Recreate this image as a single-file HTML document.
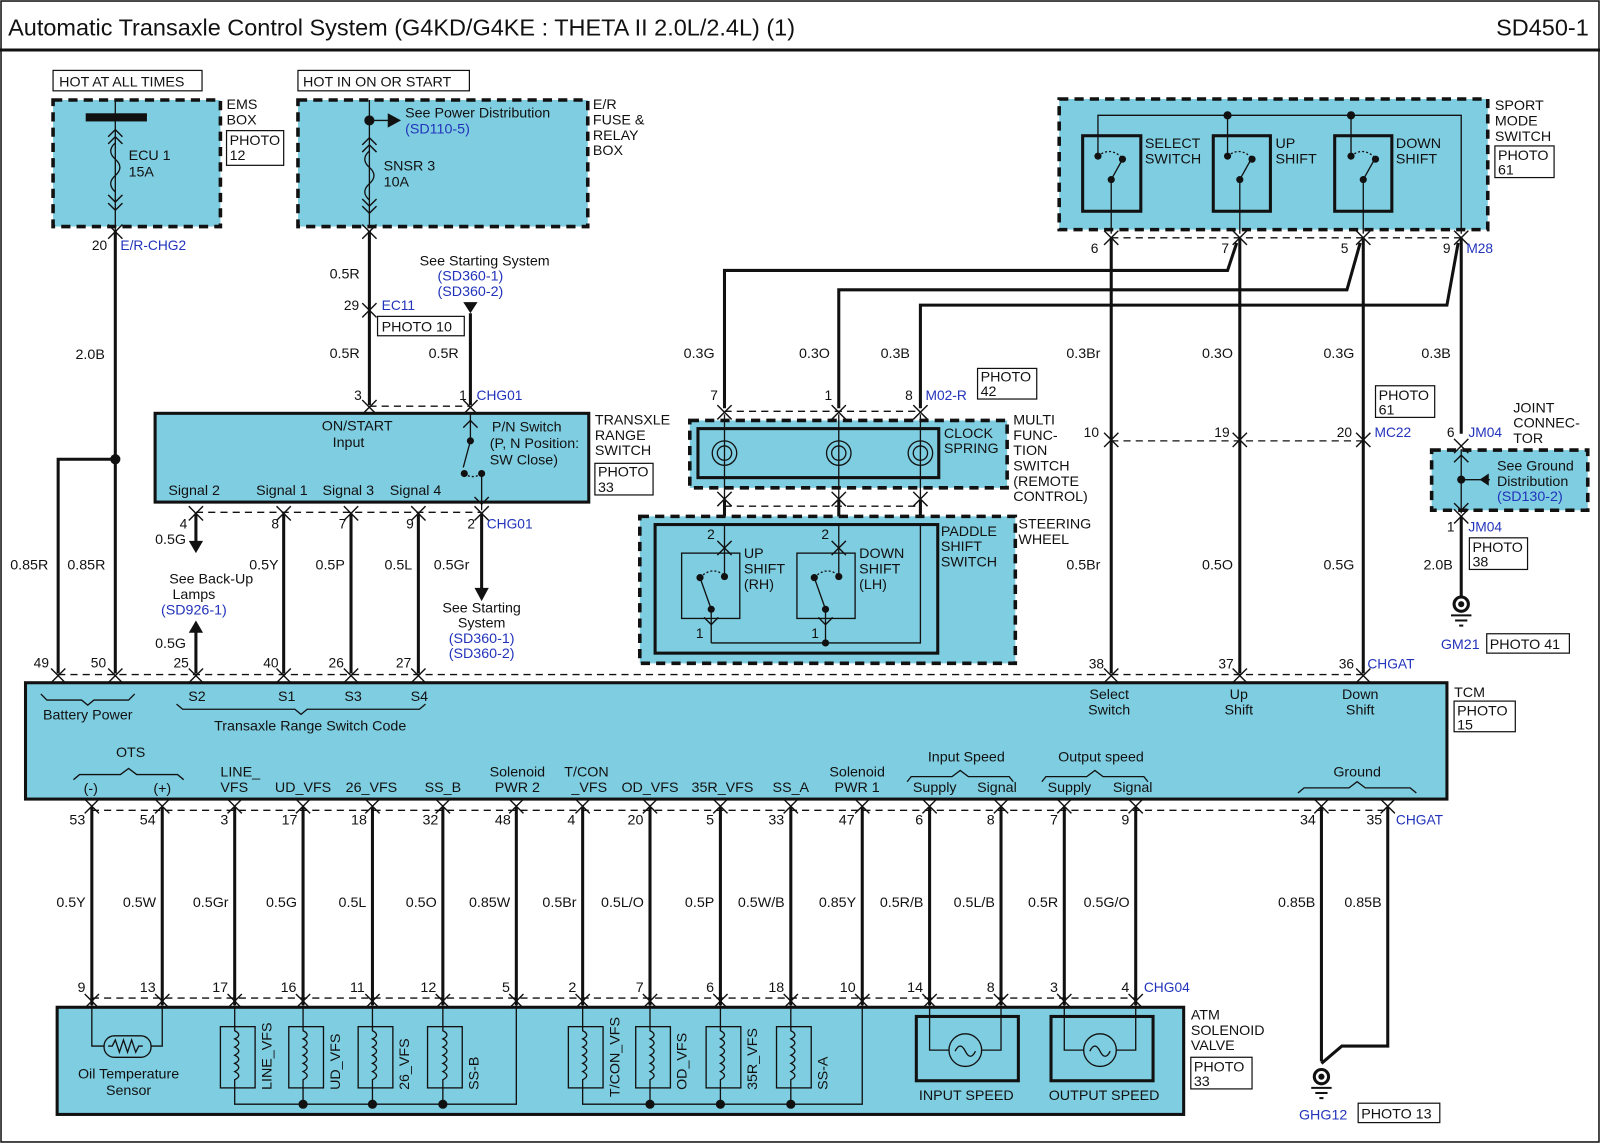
<!DOCTYPE html>
<html><head><meta charset="utf-8"><style>
html,body{margin:0;padding:0;background:#fff}
svg{display:block}
text{font-family:"Liberation Sans",Arial,sans-serif;font-size:14px;fill:#111}
.b{fill:#2233bb}
.s{font-size:13.5px}
.w{stroke:#111;stroke-width:3;fill:none}
.t{stroke:#111;stroke-width:1.3;fill:none}
.d{stroke:#111;stroke-width:1.3;fill:none;stroke-dasharray:7 5}
.box{fill:#7fcde0;stroke:#111;stroke-width:3}
.dbox{fill:#7fcde0;stroke:#111;stroke-width:3.5;stroke-dasharray:9 6}
.pb{fill:#fff;stroke:#111;stroke-width:1.2}
</style></head><body>
<svg width="1600" height="1143" viewBox="0 0 1568 1120" preserveAspectRatio="none" xmlns="http://www.w3.org/2000/svg">
<defs>
<path id="pd" d="M-7,-7 L0,0 L7,-7" stroke="#111" stroke-width="1.4" fill="none"/>
<path id="pu" d="M-7,7 L0,0 L7,7" stroke="#111" stroke-width="1.4" fill="none"/>
<g id="pin"><path d="M-7,-6 L0,1 L7,-6" stroke="#111" stroke-width="1.4" fill="none"/><path d="M-7,8 L0,1 L7,8" stroke="#111" stroke-width="1.4" fill="none"/></g>
</defs>
<rect x="1" y="1" width="1566" height="1118" fill="#fff" stroke="#111" stroke-width="1.5"/>
<text x="8" y="35" style="font-size:23px">Automatic Transaxle Control System (G4KD/G4KE : THETA II 2.0L/2.4L) (1)</text>
<text x="1557" y="35" text-anchor="end" style="font-size:23px">SD450-1</text>
<line x1="0" y1="49" x2="1568" y2="49" stroke="#111" stroke-width="3"/>

<!-- EMS -->
<rect x="52" y="69" width="146" height="20" class="pb"/><text x="58" y="85">HOT AT ALL TIMES</text>
<rect x="52" y="98" width="164" height="124" class="dbox"/>
<line x1="113" y1="98" x2="113" y2="660" class="t"/>
<line x1="113" y1="226" x2="113" y2="660" class="w"/>
<rect x="84" y="111" width="60" height="8" fill="#111"/>
<use href="#pu" x="113" y="127"/><use href="#pu" x="113" y="134"/>
<path d="M113,140 q-9,8 0,16 q9,8 0,16 q-9,8 0,16" class="t" fill="none"/>
<use href="#pd" x="113" y="198"/><use href="#pd" x="113" y="206"/>
<use href="#pin" x="113" y="226"/>
<text x="126" y="157">ECU 1</text><text x="126" y="173">15A</text>
<text x="222" y="107">EMS</text><text x="222" y="122">BOX</text>
<rect x="222" y="128" width="56" height="34" class="pb"/><text x="225" y="142">PHOTO</text><text x="225" y="157">12</text>
<text x="90" y="245" class="s">20</text><text x="118" y="245" class="b s">E/R-CHG2</text>
<text x="74" y="352">2.0B</text>
<circle cx="113" cy="450" r="5" fill="#111"/>
<path d="M113,450 H57 V660" class="w"/>
<text x="10" y="558">0.85R</text><text x="66" y="558">0.85R</text>

<!-- E/R fuse -->
<rect x="292" y="69" width="168" height="20" class="pb"/><text x="297" y="85">HOT IN ON OR START</text>
<rect x="292" y="98" width="284" height="124" class="dbox"/>
<line x1="362" y1="98" x2="362" y2="222" class="t"/>
<line x1="362" y1="226" x2="362" y2="397" class="w"/>
<circle cx="362" cy="118" r="5" fill="#111"/>
<line x1="362" y1="118" x2="382" y2="118" class="t"/><path d="M380,111 L393,118 L380,125Z" fill="#111"/>
<text x="397" y="115">See Power Distribution</text><text x="397" y="131" class="b">(SD110-5)</text>
<use href="#pu" x="362" y="135"/><use href="#pu" x="362" y="142"/>
<path d="M362,148 q-9,8 0,16 q9,8 0,16 q-9,8 0,16" class="t"/>
<use href="#pd" x="362" y="202"/><use href="#pd" x="362" y="209"/>
<use href="#pin" x="362" y="226"/>
<text x="376" y="167">SNSR 3</text><text x="376" y="183">10A</text>
<text x="581" y="107">E/R</text><text x="581" y="122">FUSE &amp;</text><text x="581" y="137">RELAY</text><text x="581" y="152">BOX</text>
<text x="323" y="273">0.5R</text>
<use href="#pin" x="362" y="303"/>
<text x="337" y="304" class="s">29</text><text x="374" y="304" class="b s">EC11</text>
<rect x="370" y="310" width="85" height="19" class="pb"/><text x="374" y="325">PHOTO 10</text>
<text x="475" y="260" text-anchor="middle">See Starting System</text>
<text x="461" y="275" text-anchor="middle" class="b">(SD360-1)</text>
<text x="461" y="290" text-anchor="middle" class="b">(SD360-2)</text>
<path d="M454,296 L468,296 L461,307Z" fill="#111"/>
<line x1="461" y1="307" x2="461" y2="397" class="w"/>
<text x="323" y="351">0.5R</text><text x="420" y="351">0.5R</text>
<text x="347" y="392" class="s">3</text><text x="450" y="392" class="s">1</text><text x="467" y="392" class="b s">CHG01</text>
<line x1="362" y1="398" x2="461" y2="398" class="d"/>

<!-- Transaxle range switch -->
<rect x="152" y="405" width="425" height="87" class="box"/>
<use href="#pin" x="362" y="398"/><use href="#pin" x="461" y="398"/>
<text x="350" y="422" text-anchor="middle">ON/START</text><text x="326" y="438">Input</text>
<use href="#pu" x="461" y="412"/>
<line x1="461" y1="405" x2="461" y2="432" class="t"/>
<circle cx="461" cy="432" r="3.5" fill="#111"/><circle cx="455" cy="464" r="3.5" fill="#111"/><circle cx="472" cy="464" r="3.5" fill="#111"/>
<line x1="461" y1="432" x2="454" y2="458" class="t"/>
<path d="M455,464 q8,6 17,0" class="t" stroke-dasharray="2 2"/>
<line x1="472" y1="464" x2="472" y2="500" class="t"/><use href="#pd" x="472" y="494"/>
<text x="482" y="423">P/N Switch</text><text x="480" y="439">(P, N Position:</text><text x="480" y="455">SW Close)</text>
<text x="165" y="485">Signal 2</text><text x="251" y="485">Signal 1</text><text x="316" y="485">Signal 3</text><text x="382" y="485">Signal 4</text>
<text x="583" y="416">TRANSXLE</text><text x="583" y="431">RANGE</text><text x="583" y="446">SWITCH</text>
<rect x="583" y="454" width="57" height="31" class="pb"/><text x="586" y="467">PHOTO</text><text x="586" y="482">33</text>
<line x1="192" y1="502" x2="472" y2="502" class="d"/>
<use href="#pin" x="192" y="502"/><use href="#pin" x="278" y="502"/><use href="#pin" x="344" y="502"/><use href="#pin" x="410" y="502"/><use href="#pin" x="472" y="502"/>
<text x="176" y="518" class="s">4</text><text x="266" y="518" class="s">8</text><text x="332" y="518" class="s">7</text><text x="398" y="518" class="s">9</text><text x="458" y="518" class="s">2</text><text x="477" y="518" class="b s">CHG01</text>
<line x1="192" y1="503" x2="192" y2="532" class="w"/><path d="M185,530 L199,530 L192,542Z" fill="#111"/>
<text x="152" y="533">0.5G</text>
<text x="207" y="572" text-anchor="middle">See Back-Up</text><text x="190" y="587" text-anchor="middle">Lamps</text><text x="190" y="602" text-anchor="middle" class="b">(SD926-1)</text>
<path d="M185,620 L199,620 L192,608Z" fill="#111"/><line x1="192" y1="618" x2="192" y2="660" class="w"/>
<text x="152" y="635">0.5G</text>
<line x1="278" y1="503" x2="278" y2="660" class="w"/><line x1="344" y1="503" x2="344" y2="660" class="w"/><line x1="410" y1="503" x2="410" y2="660" class="w"/>
<line x1="472" y1="503" x2="472" y2="578" class="w"/><path d="M465,576 L479,576 L472,589Z" fill="#111"/>
<g text-anchor="end"><text x="273" y="558">0.5Y</text><text x="338" y="558">0.5P</text><text x="404" y="558">0.5L</text><text x="460" y="558">0.5Gr</text></g>
<text x="472" y="600" text-anchor="middle">See Starting</text><text x="472" y="615" text-anchor="middle">System</text>
<text x="472" y="630" text-anchor="middle" class="b">(SD360-1)</text><text x="472" y="645" text-anchor="middle" class="b">(SD360-2)</text>
<text x="33" y="654" class="s">49</text><text x="89" y="654" class="s">50</text><text x="170" y="654" class="s">25</text><text x="258" y="654" class="s">40</text><text x="322" y="654" class="s">26</text><text x="388" y="654" class="s">27</text>

<!-- right top: sport mode -->
<rect x="1038" y="97" width="420" height="128" class="dbox"/>
<path d="M1076,153 V113 H1432 V229" class="t"/>
<circle cx="1203" cy="113" r="4" fill="#111"/><circle cx="1324" cy="113" r="4" fill="#111"/>
<g class="t">
<rect x="1061" y="133" width="57" height="74" stroke-width="3"/>
<rect x="1189" y="133" width="56" height="74" stroke-width="3"/>
<rect x="1308" y="133" width="56" height="74" stroke-width="3"/>
<line x1="1203" y1="113" x2="1203" y2="153"/><line x1="1324" y1="113" x2="1324" y2="153"/>
<line x1="1089" y1="176" x2="1099" y2="158"/><line x1="1215" y1="176" x2="1225" y2="158"/><line x1="1336" y1="176" x2="1346" y2="158"/>
<line x1="1089" y1="176" x2="1089" y2="229"/><line x1="1215" y1="176" x2="1215" y2="229"/><line x1="1336" y1="176" x2="1336" y2="229"/>
<path d="M1076,153 q12,-10 24,2" stroke-dasharray="2 2"/><path d="M1203,153 q12,-10 24,2" stroke-dasharray="2 2"/><path d="M1324,153 q12,-10 24,2" stroke-dasharray="2 2"/>
</g>
<g fill="#111"><circle cx="1076" cy="153" r="3.5"/><circle cx="1100" cy="156" r="3.5"/><circle cx="1089" cy="176" r="3.5"/>
<circle cx="1203" cy="153" r="3.5"/><circle cx="1227" cy="156" r="3.5"/><circle cx="1215" cy="176" r="3.5"/>
<circle cx="1324" cy="153" r="3.5"/><circle cx="1348" cy="156" r="3.5"/><circle cx="1336" cy="176" r="3.5"/></g>
<text x="1122" y="145">SELECT</text><text x="1122" y="160">SWITCH</text>
<text x="1250" y="145">UP</text><text x="1250" y="160">SHIFT</text>
<text x="1368" y="145">DOWN</text><text x="1368" y="160">SHIFT</text>
<text x="1465" y="108">SPORT</text><text x="1465" y="123">MODE</text><text x="1465" y="138">SWITCH</text>
<rect x="1465" y="143" width="58" height="31" class="pb"/><text x="1468" y="157">PHOTO</text><text x="1468" y="171">61</text>
<line x1="1089" y1="233" x2="1432" y2="233" class="d"/>
<use href="#pin" x="1089" y="232"/><use href="#pin" x="1215" y="232"/><use href="#pin" x="1336" y="232"/><use href="#pin" x="1432" y="232"/>
<text x="1069" y="248" class="s">6</text><text x="1197" y="248" class="s">7</text><text x="1314" y="248" class="s">5</text><text x="1414" y="248" class="s">9</text><text x="1437" y="248" class="b s">M28</text>
<g class="w">
<line x1="1089" y1="233" x2="1089" y2="660"/><line x1="1215" y1="233" x2="1215" y2="660"/><line x1="1336" y1="233" x2="1336" y2="660"/>
<line x1="1432" y1="233" x2="1432" y2="425"/>
<path d="M1212,238 L1203,265 H710 V400"/>
<path d="M1333,238 L1320,284 H822 V400"/>
<path d="M1429,238 L1418,299 H902 V400"/>
</g>
<text x="670" y="351">0.3G</text><text x="783" y="351">0.3O</text><text x="863" y="351">0.3B</text>
<text x="1045" y="351">0.3Br</text><text x="1178" y="351">0.3O</text><text x="1297" y="351">0.3G</text><text x="1393" y="351">0.3B</text>

<!-- clock spring -->
<text x="696" y="392" class="s">7</text><text x="808" y="392" class="s">1</text><text x="887" y="392" class="s">8</text><text x="907" y="392" class="b s">M02-R</text>
<rect x="958" y="361" width="58" height="30" class="pb"/><text x="961" y="374">PHOTO</text><text x="961" y="388">42</text>
<line x1="710" y1="403" x2="902" y2="403" class="d"/>
<rect x="676" y="412" width="311" height="66" class="dbox"/>
<rect x="684" y="420" width="236" height="48" class="box" fill="none"/>
<use href="#pin" x="710" y="403"/><use href="#pin" x="822" y="403"/><use href="#pin" x="902" y="403"/>
<g class="t">
<line x1="710" y1="406" x2="710" y2="488"/><line x1="822" y1="406" x2="822" y2="488"/><line x1="902" y1="406" x2="902" y2="488"/>
<circle cx="710" cy="444" r="12"/><circle cx="710" cy="444" r="7"/><circle cx="822" cy="444" r="12"/><circle cx="822" cy="444" r="7"/><circle cx="902" cy="444" r="12"/><circle cx="902" cy="444" r="7"/>
</g>
<text x="925" y="429">CLOCK</text><text x="925" y="444">SPRING</text>
<text x="993" y="416">MULTI</text><text x="993" y="431">FUNC-</text><text x="993" y="446">TION</text><text x="993" y="461">SWITCH</text><text x="993" y="476">(REMOTE</text><text x="993" y="491">CONTROL)</text>
<line x1="710" y1="496" x2="902" y2="496" class="d"/>
<use href="#pin" x="710" y="488"/><use href="#pin" x="822" y="488"/><use href="#pin" x="902" y="488"/>
<g class="w"><line x1="710" y1="490" x2="710" y2="514"/><line x1="822" y1="490" x2="822" y2="514"/><line x1="902" y1="490" x2="902" y2="514"/></g>

<!-- paddle -->
<rect x="627" y="506" width="368" height="144" class="dbox"/>
<rect x="642" y="514" width="277" height="126" class="box" fill="none"/>
<rect x="668" y="542" width="57" height="64" class="t" stroke-width="3"/>
<rect x="781" y="542" width="57" height="64" class="t" stroke-width="3"/>
<g class="t">
<line x1="710" y1="514" x2="710" y2="565"/><line x1="822" y1="514" x2="822" y2="565"/>
<line x1="686" y1="566" x2="697" y2="597"/><line x1="798" y1="566" x2="809" y2="597"/>
<line x1="697" y1="597" x2="697" y2="630"/><line x1="809" y1="597" x2="809" y2="630"/>
<path d="M697,630 H902 V514"/>
<path d="M686,566 q12,-12 24,-2" stroke-dasharray="2 2"/><path d="M798,566 q12,-12 24,-2" stroke-dasharray="2 2"/>
</g>
<use href="#pin" x="710" y="536"/><use href="#pin" x="822" y="536"/><use href="#pd" x="697" y="612"/><use href="#pd" x="809" y="612"/>
<g fill="#111"><circle cx="686" cy="566" r="3.5"/><circle cx="710" cy="565" r="3.5"/><circle cx="697" cy="597" r="3.5"/>
<circle cx="798" cy="566" r="3.5"/><circle cx="822" cy="565" r="3.5"/><circle cx="809" cy="597" r="3.5"/><circle cx="809" cy="630" r="3.5"/></g>
<text x="693" y="528" class="s">2</text><text x="805" y="528" class="s">2</text><text x="682" y="625" class="s">1</text><text x="795" y="625" class="s">1</text>
<text x="729" y="547">UP</text><text x="729" y="562">SHIFT</text><text x="729" y="577">(RH)</text>
<text x="842" y="547">DOWN</text><text x="842" y="562">SHIFT</text><text x="842" y="577">(LH)</text>
<text x="922" y="525">PADDLE</text><text x="922" y="540">SHIFT</text><text x="922" y="555">SWITCH</text>
<text x="998" y="518">STEERING</text><text x="998" y="533">WHEEL</text>

<!-- MC22 / JM04 -->
<line x1="1089" y1="432" x2="1336" y2="432" class="d"/>
<use href="#pin" x="1089" y="430"/><use href="#pin" x="1215" y="430"/><use href="#pin" x="1336" y="430"/>
<text x="1062" y="428" class="s">10</text><text x="1190" y="428" class="s">19</text><text x="1310" y="428" class="s">20</text><text x="1347" y="428" class="b s">MC22</text>
<rect x="1348" y="378" width="58" height="31" class="pb"/><text x="1351" y="392">PHOTO</text><text x="1351" y="406">61</text>
<text x="1418" y="428" class="s">6</text><text x="1439" y="428" class="b s">JM04</text>
<text x="1483" y="404">JOINT</text><text x="1483" y="419">CONNEC-</text><text x="1483" y="434">TOR</text>
<rect x="1403" y="441" width="153" height="59" class="dbox"/>
<use href="#pin" x="1432" y="436"/>
<line x1="1432" y1="440" x2="1432" y2="503" class="t"/><use href="#pu" x="1432" y="446"/><use href="#pd" x="1432" y="500"/>
<circle cx="1432" cy="470" r="4" fill="#111"/><line x1="1432" y1="470" x2="1460" y2="470" class="t"/><path d="M1459,464 L1459,476 L1450,470Z" fill="#111"/>
<text x="1467" y="461">See Ground</text><text x="1467" y="476">Distribution</text><text x="1467" y="491" class="b">(SD130-2)</text>
<use href="#pin" x="1432" y="505"/>
<text x="1418" y="521" class="s">1</text><text x="1439" y="521" class="b s">JM04</text>
<rect x="1440" y="527" width="57" height="31" class="pb"/><text x="1443" y="541">PHOTO</text><text x="1443" y="555">38</text>
<text x="1395" y="558">2.0B</text>
<line x1="1432" y1="506" x2="1432" y2="585" class="w"/>
<circle cx="1432" cy="592" r="7" fill="none" stroke="#111" stroke-width="3"/><circle cx="1432" cy="592" r="3" fill="#111"/>
<line x1="1422" y1="603" x2="1442" y2="603" stroke="#111" stroke-width="2"/><line x1="1426" y1="608" x2="1438" y2="608" stroke="#111" stroke-width="2"/><line x1="1430" y1="613" x2="1434" y2="613" stroke="#111" stroke-width="2"/>
<text x="1412" y="636" class="b">GM21</text>
<rect x="1457" y="621" width="81" height="19" class="pb"/><text x="1460" y="636">PHOTO 41</text>
<text x="1045" y="558">0.5Br</text><text x="1178" y="558">0.5O</text><text x="1297" y="558">0.5G</text>

<!-- TCM -->
<line x1="57" y1="661" x2="1336" y2="661" class="d"/>
<text x="1067" y="655" class="s">38</text><text x="1194" y="655" class="s">37</text><text x="1312" y="655" class="s">36</text><text x="1340" y="655" class="b s">CHGAT</text>
<rect x="25" y="669" width="1393" height="114" class="box"/>
<g><use href="#pin" x="57" y="661"/><use href="#pin" x="113" y="661"/><use href="#pin" x="192" y="661"/><use href="#pin" x="278" y="661"/><use href="#pin" x="344" y="661"/><use href="#pin" x="410" y="661"/><use href="#pin" x="1089" y="661"/><use href="#pin" x="1215" y="661"/><use href="#pin" x="1336" y="661"/></g>
<path d="M40,680 l6,6 h34 l6,5 l6,-5 h34 l6,-6" class="t"/>
<text x="86" y="705" text-anchor="middle">Battery Power</text>
<text x="193" y="687" text-anchor="middle">S2</text><text x="281" y="687" text-anchor="middle">S1</text><text x="346" y="687" text-anchor="middle">S3</text><text x="411" y="687" text-anchor="middle">S4</text>
<path d="M173,690 l6,5 h110 l6,5 l6,-5 h110 l6,-5" class="t"/>
<text x="304" y="716" text-anchor="middle">Transaxle Range Switch Code</text>
<text x="1087" y="685" text-anchor="middle">Select</text><text x="1087" y="700" text-anchor="middle">Switch</text>
<text x="1214" y="685" text-anchor="middle">Up</text><text x="1214" y="700" text-anchor="middle">Shift</text>
<text x="1333" y="685" text-anchor="middle">Down</text><text x="1333" y="700" text-anchor="middle">Shift</text>
<text x="1425" y="683">TCM</text>
<rect x="1425" y="687" width="60" height="30" class="pb"/><text x="1428" y="701">PHOTO</text><text x="1428" y="715">15</text>
<text x="128" y="742" text-anchor="middle">OTS</text>
<path d="M72,764 l6,-5 h40 l8,-6 l8,6 h40 l6,5" class="t"/>
<text x="89" y="777" text-anchor="middle">(-)</text><text x="159" y="777" text-anchor="middle">(+)</text>
<text x="216" y="761">LINE_</text><text x="216" y="776">VFS</text>
<text x="297" y="776" text-anchor="middle">UD_VFS</text><text x="364" y="776" text-anchor="middle">26_VFS</text><text x="434" y="776" text-anchor="middle">SS_B</text>
<text x="507" y="761" text-anchor="middle">Solenoid</text><text x="507" y="776" text-anchor="middle">PWR 2</text>
<text x="553" y="761">T/CON</text><text x="560" y="776">_VFS</text>
<text x="637" y="776" text-anchor="middle">OD_VFS</text><text x="708" y="776" text-anchor="middle">35R_VFS</text><text x="775" y="776" text-anchor="middle">SS_A</text>
<text x="840" y="761" text-anchor="middle">Solenoid</text><text x="840" y="776" text-anchor="middle">PWR 1</text>
<text x="947" y="746" text-anchor="middle">Input Speed</text>
<path d="M889,766 l4,-5 h40 l8,-6 l8,6 h40 l4,5" class="t"/>
<text x="916" y="776" text-anchor="middle">Supply</text><text x="977" y="776" text-anchor="middle">Signal</text>
<text x="1079" y="746" text-anchor="middle">Output speed</text>
<path d="M1021,766 l4,-5 h40 l8,-6 l8,6 h40 l4,5" class="t"/>
<text x="1048" y="776" text-anchor="middle">Supply</text><text x="1110" y="776" text-anchor="middle">Signal</text>
<text x="1330" y="761" text-anchor="middle">Ground</text>
<path d="M1272,777 l6,-5 h44 l8,-6 l8,6 h44 l6,5" class="t"/>

<!-- TCM bottom wires -->
<line x1="90" y1="794" x2="1360" y2="794" class="d"/>
<g>
<use href="#pin" x="90" y="789"/><use href="#pin" x="159" y="789"/><use href="#pin" x="230" y="789"/><use href="#pin" x="297" y="789"/><use href="#pin" x="365" y="789"/><use href="#pin" x="434" y="789"/><use href="#pin" x="506" y="789"/><use href="#pin" x="571" y="789"/><use href="#pin" x="637" y="789"/><use href="#pin" x="706" y="789"/><use href="#pin" x="775" y="789"/><use href="#pin" x="845" y="789"/><use href="#pin" x="911" y="789"/><use href="#pin" x="981" y="789"/><use href="#pin" x="1043" y="789"/><use href="#pin" x="1113" y="789"/><use href="#pin" x="1295" y="789"/><use href="#pin" x="1360" y="789"/>
</g>
<g class="w">
<line x1="90" y1="791" x2="90" y2="985"/><line x1="159" y1="791" x2="159" y2="985"/><line x1="230" y1="791" x2="230" y2="985"/><line x1="297" y1="791" x2="297" y2="985"/><line x1="365" y1="791" x2="365" y2="985"/><line x1="434" y1="791" x2="434" y2="985"/><line x1="506" y1="791" x2="506" y2="985"/><line x1="571" y1="791" x2="571" y2="985"/><line x1="637" y1="791" x2="637" y2="985"/><line x1="706" y1="791" x2="706" y2="985"/><line x1="775" y1="791" x2="775" y2="985"/><line x1="845" y1="791" x2="845" y2="985"/><line x1="911" y1="791" x2="911" y2="985"/><line x1="981" y1="791" x2="981" y2="985"/><line x1="1043" y1="791" x2="1043" y2="985"/><line x1="1113" y1="791" x2="1113" y2="985"/>
<path d="M1295,791 V1040"/><path d="M1360,791 V1025 H1315 L1295,1042"/>
</g>
<g class="s">
<text x="68" y="808">53</text><text x="137" y="808">54</text><text x="216" y="808">3</text><text x="276" y="808">17</text><text x="344" y="808">18</text><text x="414" y="808">32</text><text x="485" y="808">48</text><text x="556" y="808">4</text><text x="615" y="808">20</text><text x="692" y="808">5</text><text x="753" y="808">33</text><text x="822" y="808">47</text><text x="897" y="808">6</text><text x="967" y="808">8</text><text x="1029" y="808">7</text><text x="1099" y="808">9</text><text x="1274" y="808">34</text><text x="1339" y="808">35</text>
</g>
<text x="1368" y="808" class="b s">CHGAT</text>
<g text-anchor="end">
<text x="84" y="889">0.5Y</text><text x="153" y="889">0.5W</text><text x="224" y="889">0.5Gr</text><text x="291" y="889">0.5G</text><text x="359" y="889">0.5L</text><text x="428" y="889">0.5O</text><text x="500" y="889">0.85W</text><text x="565" y="889">0.5Br</text><text x="631" y="889">0.5L/O</text><text x="700" y="889">0.5P</text><text x="769" y="889">0.5W/B</text><text x="839" y="889">0.85Y</text><text x="905" y="889">0.5R/B</text><text x="975" y="889">0.5L/B</text><text x="1037" y="889">0.5R</text><text x="1107" y="889">0.5G/O</text><text x="1289" y="889">0.85B</text><text x="1354" y="889">0.85B</text>
</g>
<g class="s">
<text x="76" y="972">9</text><text x="137" y="972">13</text><text x="208" y="972">17</text><text x="275" y="972">16</text><text x="343" y="972">11</text><text x="412" y="972">12</text><text x="492" y="972">5</text><text x="557" y="972">2</text><text x="623" y="972">7</text><text x="692" y="972">6</text><text x="753" y="972">18</text><text x="823" y="972">10</text><text x="889" y="972">14</text><text x="967" y="972">8</text><text x="1029" y="972">3</text><text x="1099" y="972">4</text>
</g>
<text x="1121" y="972" class="b s">CHG04</text>

<!-- ATM -->
<line x1="90" y1="978" x2="1113" y2="978" class="d"/>
<rect x="56" y="987" width="1104" height="105" class="box"/>
<g>
<use href="#pin" x="90" y="980"/><use href="#pin" x="159" y="980"/><use href="#pin" x="230" y="980"/><use href="#pin" x="297" y="980"/><use href="#pin" x="365" y="980"/><use href="#pin" x="434" y="980"/><use href="#pin" x="506" y="980"/><use href="#pin" x="571" y="980"/><use href="#pin" x="637" y="980"/><use href="#pin" x="706" y="980"/><use href="#pin" x="775" y="980"/><use href="#pin" x="845" y="980"/><use href="#pin" x="911" y="980"/><use href="#pin" x="981" y="980"/><use href="#pin" x="1043" y="980"/><use href="#pin" x="1113" y="980"/>
</g>
<g class="t">
<path d="M90,985 V1025 H102 M148,1025 H159 V985"/>
<rect x="102" y="1015" width="46" height="21" rx="10"/>
<path d="M106,1025 l4,0 l3,-6 l4,12 l4,-12 l4,12 l4,-12 l4,12 l3,-6 h4"/>
<rect x="216" y="1006" width="34" height="60"/><rect x="283" y="1006" width="34" height="60"/><rect x="351" y="1006" width="34" height="60"/><rect x="419" y="1006" width="34" height="60"/>
<rect x="557" y="1006" width="34" height="60"/><rect x="623" y="1006" width="34" height="60"/><rect x="692" y="1006" width="34" height="60"/><rect x="761" y="1006" width="34" height="60"/>
<path d="M230,985 V1010 q8,4 0,8 q8,4 0,8 q8,4 0,8 q8,4 0,8 q8,4 0,8 q8,4 0,8 V1082 H506 V985"/>
<path d="M297,985 V1010 q8,4 0,8 q8,4 0,8 q8,4 0,8 q8,4 0,8 q8,4 0,8 q8,4 0,8 V1082"/>
<path d="M365,985 V1010 q8,4 0,8 q8,4 0,8 q8,4 0,8 q8,4 0,8 q8,4 0,8 q8,4 0,8 V1082"/>
<path d="M434,985 V1010 q8,4 0,8 q8,4 0,8 q8,4 0,8 q8,4 0,8 q8,4 0,8 q8,4 0,8 V1082"/>
<path d="M571,985 V1010 q8,4 0,8 q8,4 0,8 q8,4 0,8 q8,4 0,8 q8,4 0,8 q8,4 0,8 V1082 H845 V985"/>
<path d="M637,985 V1010 q8,4 0,8 q8,4 0,8 q8,4 0,8 q8,4 0,8 q8,4 0,8 q8,4 0,8 V1082"/>
<path d="M706,985 V1010 q8,4 0,8 q8,4 0,8 q8,4 0,8 q8,4 0,8 q8,4 0,8 q8,4 0,8 V1082"/>
<path d="M775,985 V1010 q8,4 0,8 q8,4 0,8 q8,4 0,8 q8,4 0,8 q8,4 0,8 q8,4 0,8 V1082"/>
<rect x="898" y="996" width="100" height="63" stroke-width="3"/><rect x="1030" y="996" width="100" height="63" stroke-width="3"/>
<path d="M911,985 V1029 H930 M962,1029 H981 V985"/><circle cx="946" cy="1029" r="16"/><path d="M936,1030 q5,-10 10,0 q5,10 10,0"/>
<path d="M1043,985 V1029 H1062 M1094,1029 H1113 V985"/><circle cx="1078" cy="1029" r="16"/><path d="M1068,1030 q5,-10 10,0 q5,10 10,0"/>
</g>
<g fill="#111"><circle cx="297" cy="1082" r="4.5"/><circle cx="365" cy="1082" r="4.5"/><circle cx="434" cy="1082" r="4.5"/><circle cx="637" cy="1082" r="4.5"/><circle cx="706" cy="1082" r="4.5"/><circle cx="775" cy="1082" r="4.5"/></g>
<g>
<text transform="translate(266,1068) rotate(-90)">LINE_VFS</text>
<text transform="translate(333,1068) rotate(-90)">UD_VFS</text>
<text transform="translate(401,1068) rotate(-90)">26_VFS</text>
<text transform="translate(469,1068) rotate(-90)">SS-B</text>
<text transform="translate(607,1075) rotate(-90)">T/CON_VFS</text>
<text transform="translate(673,1068) rotate(-90)">OD_VFS</text>
<text transform="translate(742,1068) rotate(-90)">35R_VFS</text>
<text transform="translate(811,1068) rotate(-90)">SS-A</text>
</g>
<text x="126" y="1057" text-anchor="middle">Oil Temperature</text><text x="126" y="1073" text-anchor="middle">Sensor</text>
<text x="947" y="1078" text-anchor="middle">INPUT SPEED</text><text x="1082" y="1078" text-anchor="middle">OUTPUT SPEED</text>
<text x="1167" y="999">ATM</text><text x="1167" y="1014">SOLENOID</text><text x="1167" y="1029">VALVE</text>
<rect x="1167" y="1036" width="60" height="31" class="pb"/><text x="1170" y="1050">PHOTO</text><text x="1170" y="1064">33</text>
<circle cx="1295" cy="1055" r="7" fill="none" stroke="#111" stroke-width="3"/><circle cx="1295" cy="1055" r="3" fill="#111"/>
<line x1="1285" y1="1066" x2="1305" y2="1066" stroke="#111" stroke-width="2"/><line x1="1289" y1="1071" x2="1301" y2="1071" stroke="#111" stroke-width="2"/><line x1="1293" y1="1076" x2="1297" y2="1076" stroke="#111" stroke-width="2"/>
<text x="1273" y="1097" class="b">GHG12</text>
<rect x="1331" y="1081" width="80" height="19" class="pb"/><text x="1334" y="1096">PHOTO 13</text>
</svg>
</body></html>
